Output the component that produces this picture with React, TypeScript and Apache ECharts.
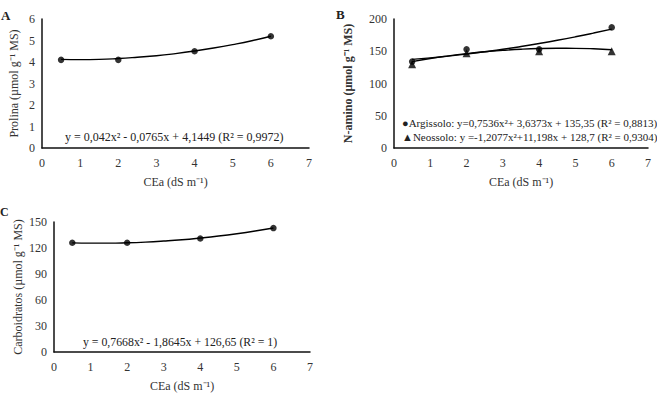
import React, { useEffect, useRef } from "react";
import * as echarts from "echarts";

// Measured points
const xPoints = [0.5, 2, 4, 6];
const prolina = [4.1, 4.1, 4.5, 5.2];
const argissolo = [134, 153, 153, 187];
const neossolo = [130, 147, 150, 150];
const carbo = [126, 126, 131, 143];

// Trend curves
const trendX = [0.5, 1, 1.5, 2, 2.5, 3, 3.5, 4, 4.5, 5, 5.5, 6];
const prolinaTrend = [4.12, 4.11, 4.12, 4.16, 4.22, 4.29, 4.39, 4.51, 4.65, 4.81, 4.99, 5.2];
const argissoloTrend = [137.4, 139.7, 142.5, 145.6, 149.2, 153.0, 157.3, 162.0, 167.0, 172.4, 178.2, 184.3];
const neossoloTrend = [134.0, 138.7, 142.8, 146.3, 149.2, 151.4, 153.1, 154.2, 154.6, 154.5, 153.8, 152.4];
const carboTrend = [125.9, 125.6, 125.6, 126.0, 126.8, 128.0, 129.5, 131.5, 133.8, 136.5, 139.6, 143.1];

const xTicks = [0, 1, 2, 3, 4, 5, 6, 7];

const eqA = "y = 0,042x² - 0,0765x + 4,1449 (R² = 0,9972)";
const eqB1 = "●Argissolo: y=0,7536x²+ 3,6373x + 135,35 (R² = 0,8813)";
const eqB2 = "▲Neossolo: y =-1,2077x²+11,198x + 128,7 (R² = 0,9304)";
const eqC = "y = 0,7668x² - 1,8645x + 126,65 (R² = 1)";

const FONT = "'Liberation Serif', 'Times New Roman', serif";
const TXT = "#333";

const pair = (xs: number[], ys: number[]) => xs.map((x, i) => [x, ys[i]]);

export default function App() {
  const ref = useRef<HTMLDivElement>(null);
  useEffect(() => {
    if (!ref.current) return;
    const chart = echarts.init(ref.current, null, { renderer: "svg" });
    const xAxisBase = (gridIndex: number) => ({
      type: "value" as const,
      gridIndex,
      min: xTicks[0],
      max: xTicks[xTicks.length - 1],
      interval: 1,
      name: "CEa (dS m⁻¹)",
      nameLocation: "middle" as const,
      nameGap: 28,
      nameTextStyle: { fontFamily: FONT, fontSize: 12, color: TXT },
      axisLine: { lineStyle: { color: "#111", width: 1.5 } },
      axisTick: { show: false },
      splitLine: { show: false },
      axisLabel: { fontFamily: FONT, fontSize: 12, color: TXT, margin: 9 },
    });
    const yAxisBase = (gridIndex: number, max: number, interval: number, name: string, gap: number, bold = false) => ({
      type: "value" as const,
      gridIndex,
      min: 0,
      max,
      interval,
      name,
      nameLocation: "middle" as const,
      nameGap: gap,
      nameTextStyle: { fontFamily: FONT, fontSize: 12, color: TXT, fontWeight: bold ? "bold" : "normal" },
      axisLine: { show: true, lineStyle: { color: "#111", width: 1.5 } },
      axisTick: { show: false },
      splitLine: { show: false },
      axisLabel: { fontFamily: FONT, fontSize: 12, color: TXT, margin: 7 },
    });
    const scatter = (idx: number, data: number[], symbol = "circle") => ({
      type: "scatter" as const,
      xAxisIndex: idx,
      yAxisIndex: idx,
      data: pair(xPoints, data),
      symbol,
      symbolSize: symbol === "triangle" ? 8 : 6.5,
      itemStyle: { color: "#000" },
      z: 3,
    });
    const trend = (idx: number, data: number[]) => ({
      type: "line" as const,
      xAxisIndex: idx,
      yAxisIndex: idx,
      data: pair(trendX, data),
      smooth: true,
      showSymbol: false,
      lineStyle: { color: "#000", width: 1.4 },
      z: 2,
    });
    const text = (x: number, y: number, t: string, size = 11, weight = "normal") => ({
      type: "text" as const,
      x,
      y,
      style: { text: t, fontFamily: FONT, fontSize: size, fill: "#222", fontWeight: weight, verticalAlign: "middle" },
    });
    chart.setOption({
      animation: false,
      backgroundColor: "#fff",
      grid: [
        { left: 42, top: 19, width: 267, height: 129 },
        { left: 394, top: 19, width: 254, height: 129 },
        { left: 54, top: 222, width: 256, height: 130 },
      ],
      xAxis: [xAxisBase(0), xAxisBase(1), xAxisBase(2)],
      yAxis: [
        yAxisBase(0, 6, 1, "Prolina (µmol g⁻¹ MS)", 22),
        yAxisBase(1, 200, 50, "N-amino (µmol g⁻¹ MS)", 40, true),
        yAxisBase(2, 150, 30, "Carboidratos (µmol g⁻¹ MS)", 30),
      ],
      series: [
        trend(0, prolinaTrend),
        scatter(0, prolina),
        trend(1, argissoloTrend),
        trend(1, neossoloTrend),
        scatter(1, argissolo),
        scatter(1, neossolo, "triangle"),
        trend(2, carboTrend),
        scatter(2, carbo),
      ],
      graphic: [
        text(1, 15, "A", 13, "bold"),
        text(336, 14, "B", 13, "bold"),
        text(0, 212, "C", 12, "bold"),
        text(65, 137, eqA, 12),
        text(402, 123, eqB1, 11),
        text(402, 137, eqB2, 11),
        text(83, 342, eqC, 11.8),
      ],
    });
    return () => chart.dispose();
  }, []);
  return <div ref={ref} style={{ position: "fixed", left: 0, top: 0, width: 657, height: 404 }} />;
}
